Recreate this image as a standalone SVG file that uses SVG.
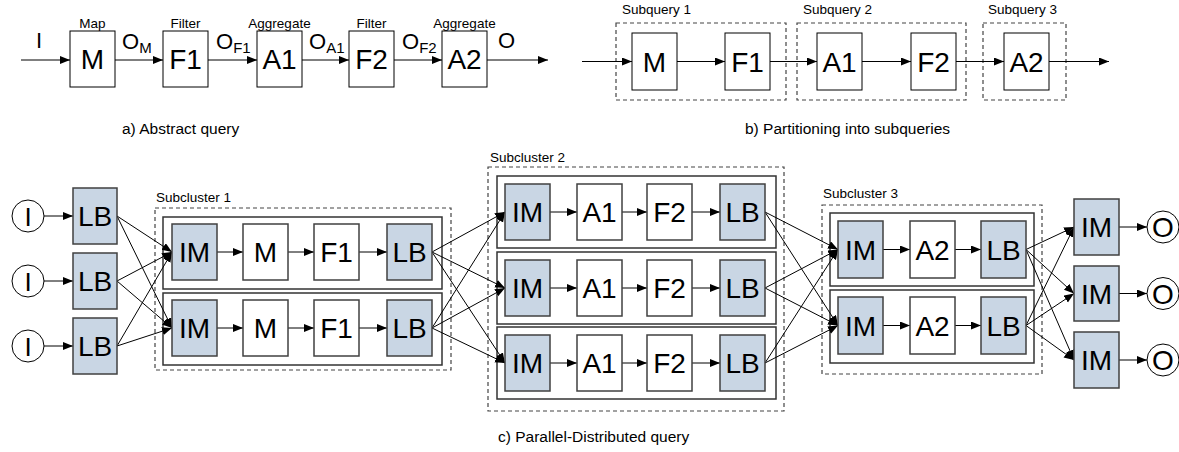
<svg xmlns="http://www.w3.org/2000/svg" width="1179" height="452" viewBox="0 0 1179 452">
<style>
text{font-family:"Liberation Sans",Arial,sans-serif;fill:#000}
.big{font-size:28px;text-anchor:middle}
.lbl{font-size:13.5px}
.cap{font-size:15.5px}
.ctr{text-anchor:middle}
.abox{fill:#fff;stroke:#000;stroke-width:1}
.wbox{fill:#fff;stroke:#404040;stroke-width:1.5}
.gbox{fill:#c9d6e4;stroke:#404040;stroke-width:1.5}
.row{fill:#fff;stroke:#333;stroke-width:1.5}
.dash{fill:none;stroke:#444;stroke-width:1.2;stroke-dasharray:4,3}
.ln{stroke:#000;stroke-width:1;fill:none}
.circ{fill:#fff;stroke:#000;stroke-width:1}
</style>
<defs>
<marker id="ah" markerWidth="11" markerHeight="9" refX="10" refY="4" orient="auto" markerUnits="userSpaceOnUse">
<path d="M0,0 L10,4 L0,8 z" fill="#000"/>
</marker>
</defs>

<!-- Part a -->
<g id="a-M"><rect class="abox" x="70" y="31" width="45" height="56"/><text class="big" x="92.5" y="69">M</text><text class="lbl ctr" x="92.5" y="28">Map</text></g>
<g id="a-F1"><rect class="abox" x="163" y="31" width="45" height="56"/><text class="big" x="185.5" y="69">F1</text><text class="lbl ctr" x="185.5" y="28">Filter</text></g>
<g id="a-A1"><rect class="abox" x="257" y="31" width="45" height="56"/><text class="big" x="279.5" y="69">A1</text><text class="lbl ctr" x="279.5" y="28">Aggregate</text></g>
<g id="a-F2"><rect class="abox" x="349" y="31" width="45" height="56"/><text class="big" x="371.5" y="69">F2</text><text class="lbl ctr" x="371.5" y="28">Filter</text></g>
<g id="a-A2"><rect class="abox" x="442" y="31" width="45" height="56"/><text class="big" x="464.5" y="69">A2</text><text class="lbl ctr" x="464.5" y="28">Aggregate</text></g>
<g id="a-labels" style="font-size:22px">
<text x="36" y="48">I</text>
<text x="122" y="49">O<tspan style="font-size:15px" dy="4">M</tspan></text>
<text x="216" y="49">O<tspan style="font-size:15px" dy="4">F1</tspan></text>
<text x="309" y="49">O<tspan style="font-size:15px" dy="4">A1</tspan></text>
<text x="402" y="49">O<tspan style="font-size:15px" dy="4">F2</tspan></text>
<text x="498" y="48">O</text>
</g>
<text class="cap" x="122" y="134">a) Abstract query</text>

<!-- Part b -->
<g id="b-sq1"><rect class="dash" x="616" y="23" width="170" height="77"/><text class="lbl" x="622" y="14">Subquery 1</text></g>
<g id="b-sq2"><rect class="dash" x="797" y="23" width="169" height="77"/><text class="lbl" x="803" y="14">Subquery 2</text></g>
<g id="b-sq3"><rect class="dash" x="983" y="23" width="83" height="77"/><text class="lbl" x="988" y="14">Subquery 3</text></g>
<g id="b-M"><rect class="abox" x="632" y="33" width="45" height="57"/><text class="big" x="654.5" y="71.5">M</text></g>
<g id="b-F1"><rect class="abox" x="725" y="33" width="45" height="57"/><text class="big" x="747.5" y="71.5">F1</text></g>
<g id="b-A1"><rect class="abox" x="817" y="33" width="45" height="57"/><text class="big" x="839.5" y="71.5">A1</text></g>
<g id="b-F2"><rect class="abox" x="911" y="33" width="45" height="57"/><text class="big" x="933.5" y="71.5">F2</text></g>
<g id="b-A2"><rect class="abox" x="1004" y="33" width="45" height="57"/><text class="big" x="1026.5" y="71.5">A2</text></g>
<text class="cap" x="745" y="134">b) Partitioning into subqueries</text>

<!-- Part c containers -->
<g id="subcluster1">
<rect class="dash" x="155" y="208" width="296" height="162"/>
<text class="lbl" x="156" y="202">Subcluster 1</text>
<rect class="row" x="163" y="217" width="279" height="72"/>
<rect class="row" x="163" y="293" width="279" height="72"/>
</g>
<g id="subcluster2">
<rect class="dash" x="488" y="167" width="296" height="244"/>
<text class="lbl" x="490" y="162">Subcluster 2</text>
<rect class="row" x="497" y="176" width="279" height="72"/>
<rect class="row" x="497" y="252" width="279" height="72"/>
<rect class="row" x="497" y="327" width="279" height="72"/>
</g>
<g id="subcluster3">
<rect class="dash" x="822" y="205" width="220" height="169"/>
<text class="lbl" x="823" y="198">Subcluster 3</text>
<rect class="row" x="830" y="213" width="204" height="73"/>
<rect class="row" x="830" y="290" width="204" height="73"/>
</g>

<!-- Connectors -->
<g id="connectors" class="ln">
<line x1="21" y1="60" x2="70" y2="60" marker-end="url(#ah)"/>
<line x1="115" y1="60" x2="163" y2="60" marker-end="url(#ah)"/>
<line x1="208" y1="60" x2="257" y2="60" marker-end="url(#ah)"/>
<line x1="302" y1="60" x2="349" y2="60" marker-end="url(#ah)"/>
<line x1="394" y1="60" x2="442" y2="60" marker-end="url(#ah)"/>
<line x1="487" y1="60" x2="548" y2="60" marker-end="url(#ah)"/>
<line x1="582" y1="61.5" x2="632" y2="61.5" marker-end="url(#ah)"/>
<line x1="677" y1="61.5" x2="725" y2="61.5" marker-end="url(#ah)"/>
<line x1="770" y1="61.5" x2="817" y2="61.5" marker-end="url(#ah)"/>
<line x1="862" y1="61.5" x2="911" y2="61.5" marker-end="url(#ah)"/>
<line x1="956" y1="61.5" x2="1004" y2="61.5" marker-end="url(#ah)"/>
<line x1="1049" y1="61.5" x2="1109" y2="61.5" marker-end="url(#ah)"/>
<line x1="44" y1="216" x2="73" y2="216" marker-end="url(#ah)"/>
<line x1="44" y1="281" x2="73" y2="281" marker-end="url(#ah)"/>
<line x1="44" y1="346" x2="73" y2="346" marker-end="url(#ah)"/>
<line x1="117" y1="216" x2="172" y2="252" marker-end="url(#ah)"/>
<line x1="117" y1="216" x2="172" y2="328" marker-end="url(#ah)"/>
<line x1="117" y1="281" x2="172" y2="252" marker-end="url(#ah)"/>
<line x1="117" y1="281" x2="172" y2="328" marker-end="url(#ah)"/>
<line x1="117" y1="346" x2="172" y2="252" marker-end="url(#ah)"/>
<line x1="117" y1="346" x2="172" y2="328" marker-end="url(#ah)"/>
<line x1="217" y1="252" x2="243" y2="252" marker-end="url(#ah)"/>
<line x1="288" y1="252" x2="314" y2="252" marker-end="url(#ah)"/>
<line x1="359" y1="252" x2="387" y2="252" marker-end="url(#ah)"/>
<line x1="217" y1="328" x2="243" y2="328" marker-end="url(#ah)"/>
<line x1="288" y1="328" x2="314" y2="328" marker-end="url(#ah)"/>
<line x1="359" y1="328" x2="387" y2="328" marker-end="url(#ah)"/>
<line x1="432" y1="252" x2="505" y2="212" marker-end="url(#ah)"/>
<line x1="432" y1="252" x2="505" y2="288" marker-end="url(#ah)"/>
<line x1="432" y1="252" x2="505" y2="363" marker-end="url(#ah)"/>
<line x1="432" y1="328" x2="505" y2="212" marker-end="url(#ah)"/>
<line x1="432" y1="328" x2="505" y2="288" marker-end="url(#ah)"/>
<line x1="432" y1="328" x2="505" y2="363" marker-end="url(#ah)"/>
<line x1="550" y1="212" x2="577" y2="212" marker-end="url(#ah)"/>
<line x1="622" y1="212" x2="647" y2="212" marker-end="url(#ah)"/>
<line x1="692" y1="212" x2="720" y2="212" marker-end="url(#ah)"/>
<line x1="550" y1="288" x2="577" y2="288" marker-end="url(#ah)"/>
<line x1="622" y1="288" x2="647" y2="288" marker-end="url(#ah)"/>
<line x1="692" y1="288" x2="720" y2="288" marker-end="url(#ah)"/>
<line x1="550" y1="363" x2="577" y2="363" marker-end="url(#ah)"/>
<line x1="622" y1="363" x2="647" y2="363" marker-end="url(#ah)"/>
<line x1="692" y1="363" x2="720" y2="363" marker-end="url(#ah)"/>
<line x1="765" y1="212" x2="838" y2="249.5" marker-end="url(#ah)"/>
<line x1="765" y1="212" x2="838" y2="325.5" marker-end="url(#ah)"/>
<line x1="765" y1="288" x2="838" y2="249.5" marker-end="url(#ah)"/>
<line x1="765" y1="288" x2="838" y2="325.5" marker-end="url(#ah)"/>
<line x1="765" y1="363" x2="838" y2="249.5" marker-end="url(#ah)"/>
<line x1="765" y1="363" x2="838" y2="325.5" marker-end="url(#ah)"/>
<line x1="883" y1="249.5" x2="910" y2="249.5" marker-end="url(#ah)"/>
<line x1="955" y1="249.5" x2="981" y2="249.5" marker-end="url(#ah)"/>
<line x1="883" y1="325.5" x2="910" y2="325.5" marker-end="url(#ah)"/>
<line x1="955" y1="325.5" x2="981" y2="325.5" marker-end="url(#ah)"/>
<line x1="1026" y1="249.5" x2="1074" y2="227" marker-end="url(#ah)"/>
<line x1="1026" y1="249.5" x2="1074" y2="293.5" marker-end="url(#ah)"/>
<line x1="1026" y1="249.5" x2="1074" y2="360" marker-end="url(#ah)"/>
<line x1="1026" y1="325.5" x2="1074" y2="227" marker-end="url(#ah)"/>
<line x1="1026" y1="325.5" x2="1074" y2="293.5" marker-end="url(#ah)"/>
<line x1="1026" y1="325.5" x2="1074" y2="360" marker-end="url(#ah)"/>
<line x1="1119" y1="227" x2="1147" y2="227" marker-end="url(#ah)"/>
<line x1="1119" y1="293.5" x2="1147" y2="293.5" marker-end="url(#ah)"/>
<line x1="1119" y1="360" x2="1147" y2="360" marker-end="url(#ah)"/>
</g>

<!-- Inputs -->
<g id="in1"><circle class="circ" cx="28" cy="216" r="16"/><text class="big" x="28" y="226" style="font-size:26px">I</text></g>
<g id="in2"><circle class="circ" cx="28" cy="281" r="16"/><text class="big" x="28" y="291" style="font-size:26px">I</text></g>
<g id="in3"><circle class="circ" cx="28" cy="346" r="16"/><text class="big" x="28" y="356" style="font-size:26px">I</text></g>
<g id="lb1"><rect class="gbox" x="73" y="188" width="44" height="56"/><text class="big" x="95" y="226">LB</text></g>
<g id="lb2"><rect class="gbox" x="73" y="253" width="44" height="56"/><text class="big" x="95" y="291">LB</text></g>
<g id="lb3"><rect class="gbox" x="73" y="318" width="44" height="56"/><text class="big" x="95" y="356">LB</text></g>

<!-- Subcluster 1 nodes -->
<g id="s1r1-IM"><rect class="gbox" x="172" y="224" width="45" height="56"/><text class="big" x="194.5" y="262">IM</text></g>
<g id="s1r1-M"><rect class="wbox" x="243" y="224" width="45" height="56"/><text class="big" x="265.5" y="262">M</text></g>
<g id="s1r1-F1"><rect class="wbox" x="314" y="224" width="45" height="56"/><text class="big" x="336.5" y="262">F1</text></g>
<g id="s1r1-LB"><rect class="gbox" x="387" y="224" width="45" height="56"/><text class="big" x="409.5" y="262">LB</text></g>
<g id="s1r2-IM"><rect class="gbox" x="172" y="300" width="45" height="56"/><text class="big" x="194.5" y="338">IM</text></g>
<g id="s1r2-M"><rect class="wbox" x="243" y="300" width="45" height="56"/><text class="big" x="265.5" y="338">M</text></g>
<g id="s1r2-F1"><rect class="wbox" x="314" y="300" width="45" height="56"/><text class="big" x="336.5" y="338">F1</text></g>
<g id="s1r2-LB"><rect class="gbox" x="387" y="300" width="45" height="56"/><text class="big" x="409.5" y="338">LB</text></g>

<!-- Subcluster 2 nodes -->
<g id="s2r1-IM"><rect class="gbox" x="505" y="184" width="45" height="56"/><text class="big" x="527.5" y="222">IM</text></g>
<g id="s2r1-A1"><rect class="wbox" x="577" y="184" width="45" height="56"/><text class="big" x="599.5" y="222">A1</text></g>
<g id="s2r1-F2"><rect class="wbox" x="647" y="184" width="45" height="56"/><text class="big" x="669.5" y="222">F2</text></g>
<g id="s2r1-LB"><rect class="gbox" x="720" y="184" width="45" height="56"/><text class="big" x="742.5" y="222">LB</text></g>
<g id="s2r2-IM"><rect class="gbox" x="505" y="260" width="45" height="56"/><text class="big" x="527.5" y="298">IM</text></g>
<g id="s2r2-A1"><rect class="wbox" x="577" y="260" width="45" height="56"/><text class="big" x="599.5" y="298">A1</text></g>
<g id="s2r2-F2"><rect class="wbox" x="647" y="260" width="45" height="56"/><text class="big" x="669.5" y="298">F2</text></g>
<g id="s2r2-LB"><rect class="gbox" x="720" y="260" width="45" height="56"/><text class="big" x="742.5" y="298">LB</text></g>
<g id="s2r3-IM"><rect class="gbox" x="505" y="335" width="45" height="56"/><text class="big" x="527.5" y="373">IM</text></g>
<g id="s2r3-A1"><rect class="wbox" x="577" y="335" width="45" height="56"/><text class="big" x="599.5" y="373">A1</text></g>
<g id="s2r3-F2"><rect class="wbox" x="647" y="335" width="45" height="56"/><text class="big" x="669.5" y="373">F2</text></g>
<g id="s2r3-LB"><rect class="gbox" x="720" y="335" width="45" height="56"/><text class="big" x="742.5" y="373">LB</text></g>

<!-- Subcluster 3 nodes -->
<g id="s3r1-IM"><rect class="gbox" x="838" y="221" width="45" height="57"/><text class="big" x="860.5" y="259.5">IM</text></g>
<g id="s3r1-A2"><rect class="wbox" x="910" y="221" width="45" height="57"/><text class="big" x="932.5" y="259.5">A2</text></g>
<g id="s3r1-LB"><rect class="gbox" x="981" y="221" width="45" height="57"/><text class="big" x="1003.5" y="259.5">LB</text></g>
<g id="s3r2-IM"><rect class="gbox" x="838" y="297" width="45" height="57"/><text class="big" x="860.5" y="335.5">IM</text></g>
<g id="s3r2-A2"><rect class="wbox" x="910" y="297" width="45" height="57"/><text class="big" x="932.5" y="335.5">A2</text></g>
<g id="s3r2-LB"><rect class="gbox" x="981" y="297" width="45" height="57"/><text class="big" x="1003.5" y="335.5">LB</text></g>

<!-- Outputs -->
<g id="out-IM1"><rect class="gbox" x="1074" y="199" width="45" height="56"/><text class="big" x="1096.5" y="237">IM</text></g>
<g id="out-IM2"><rect class="gbox" x="1074" y="266" width="45" height="55"/><text class="big" x="1096.5" y="303.5">IM</text></g>
<g id="out-IM3"><rect class="gbox" x="1074" y="332" width="45" height="56"/><text class="big" x="1096.5" y="370">IM</text></g>
<g id="out1"><circle class="circ" cx="1163" cy="227" r="16"/><text class="big" x="1163" y="237">O</text></g>
<g id="out2"><circle class="circ" cx="1163" cy="293.5" r="16"/><text class="big" x="1163" y="303.5">O</text></g>
<g id="out3"><circle class="circ" cx="1163" cy="360" r="16"/><text class="big" x="1163" y="370">O</text></g>

<text class="cap" x="498" y="442">c) Parallel-Distributed query</text>
</svg>
